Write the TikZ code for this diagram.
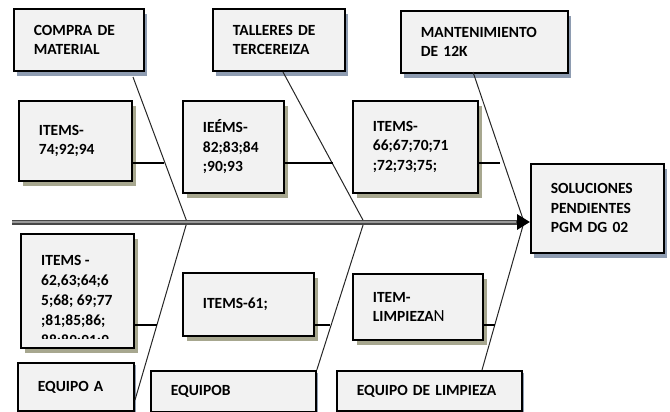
\documentclass[tikz,border=0pt]{standalone}
\usepackage{fontspec}
\setmainfont{Carlito}
\usetikzlibrary{positioning, shadows, arrows.meta}

\definecolor{boxfill}{HTML}{F2F2F2}
\definecolor{catshade}{HTML}{8E9CB1}
\definecolor{itemshade}{HTML}{A7A78F}

\begin{document}
\begin{tikzpicture}[x=1pt, y=-1pt,
  box/.style={draw=black, line width=1.8pt, fill=boxfill, anchor=north west, align=left, inner xsep=20pt, inner ysep=0pt, font=\fontsize{15.5}{19.5}\selectfont\bfseries},
  catbox/.style={box, general shadow={fill=catshade, shadow xshift=3pt, shadow yshift=-5pt}},
  itembox/.style={box, general shadow={fill=itemshade, shadow xshift=4pt, shadow yshift=-5pt}},
  teambox/.style={box, general shadow={fill=catshade, shadow xshift=2pt, shadow yshift=-2pt}},
  bone/.style={line width=1pt, black!85},
  link/.style={line width=1.3pt},
  spine/.style={line width=5pt, draw=black!72, -{Triangle[length=13pt, width=15pt, color=black]}, postaction={draw=black!40, line width=1.2pt, -, shorten >=14pt}}
]
\useasboundingbox (0,0) rectangle (670,412);

% causes (top row)
\node[catbox, text width=90pt, minimum height=62pt] (compra) at (13,8) {COMPRA DE\\MATERIAL};
\node[catbox, text width=92pt, minimum height=62pt] (talleres) at (212,8) {TALLERES DE\\TERCEREIZA};
\node[catbox, text width=127pt, minimum height=62pt] (mant) at (400,10) {MANTENIMIENTO\\DE 12K};

% items above the spine
\node[itembox, text width=73pt, minimum height=80pt] (i1) at (18,100) {ITEMS-\\74;92;94};
\node[itembox, text width=61pt, minimum height=92pt] (i2) at (182,100) {IEÉMS-\\82;83;84\\;90;93};
\node[itembox, text width=85pt, minimum height=92pt] (i3) at (352,100) {ITEMS-\\66;67;70;71\\;72;73;75;};

% effect
\node[catbox, text width=93pt, minimum height=89pt] (sol) at (530,163) {SOLUCIONES\\PENDIENTES\\PGM DG 02};

% items below the spine
\node[itembox, text width=73pt, minimum height=114pt] (i4) at (20,233) {};
\begin{scope}
  \clip ([xshift=2pt, yshift=-3pt]i4.north west) rectangle ([xshift=-2pt, yshift=10pt]i4.south east);
  \node[anchor=north west, align=left, inner sep=0pt, font=\fontsize{15.5}{20}\selectfont\bfseries] (i4txt) at ([xshift=21pt, yshift=-22pt]i4.north west) {ITEMS -\\62,63;64;6\\5;68; 69;77\\;81;85;86;\\88;89;91;9};
\end{scope}
\node[itembox, text width=91pt, minimum height=63pt] (i5) at (182,272) {ITEMS-61;\\[19pt]};
\node[itembox, text width=90pt, minimum height=66pt] (i6) at (352,273) {ITEM-\\LIMPIEZA{\mdseries\fontsize{17}{19}\selectfont N}};

% teams (bottom row)
\node[teambox, text width=76pt, minimum height=48pt] (eqa) at (17,362) {EQUIPO A};
\node[teambox, text width=125pt, minimum height=41pt] (eqb) at (150,370) {EQUIPOB};
\node[teambox, text width=145pt, minimum height=40pt] (eql) at (336,370) {EQUIPO DE LIMPIEZA};

% bone points
\coordinate (tail) at (12,222);
\coordinate (j1) at (187,222);
\coordinate (j2) at (364,222);
\coordinate (j3) at (524,222);
\coordinate (t1) at (133,77);
\coordinate (t2) at (283,72);
\coordinate (t3) at (473,72);
\coordinate (e1) at (135,400);
\coordinate (e3) at (482,370);
\coordinate (h1) at (164,163);
\coordinate (h2) at (333,163);
\coordinate (h3) at (500,163);
\coordinate (h4) at (157,325);
\coordinate (h5) at (330,325);
\coordinate (h6) at (495,325);

\draw[bone] (t1) -- (j1) -- (e1);
\draw[bone] (t2) -- (j2) -- (eqb.north east);
\draw[bone] (t3) -- (j3) -- (e3);

\draw[link] (i1.east |- h1) -- (h1);
\draw[link] (i2.east |- h2) -- (h2);
\draw[link] (i3.east |- h3) -- (h3);
\draw[link] (i4.east |- h4) -- (h4);
\draw[link] (i5.east |- h5) -- (h5);
\draw[link] (i6.east |- h6) -- (h6);

\draw[spine] (tail) -- (sol.west |- tail);
\end{tikzpicture}
\end{document}
